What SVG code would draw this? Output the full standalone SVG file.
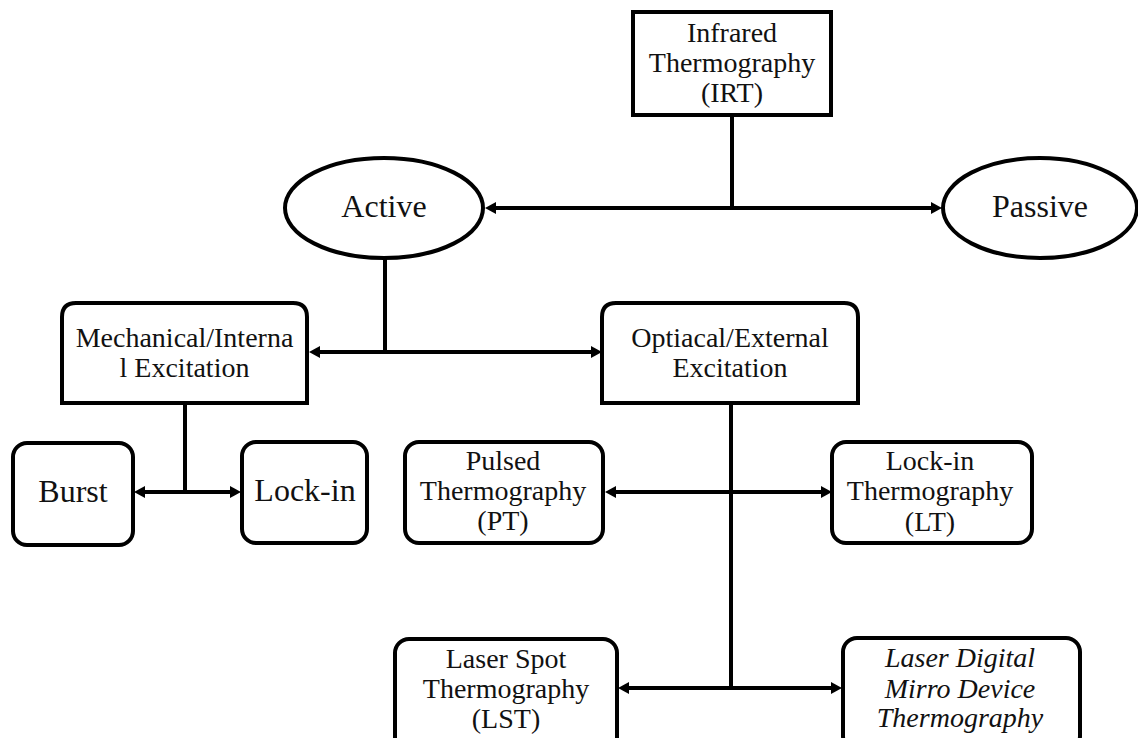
<svg xmlns="http://www.w3.org/2000/svg" width="1138" height="738" viewBox="0 0 1138 738">
<style>
.box{fill:#fff;stroke:#000;stroke-width:4}
.t{font-family:"Liberation Serif","Times New Roman",serif;font-size:28px;fill:#111;text-anchor:middle}
.big{font-size:32px}
.it{font-style:italic}
.c{stroke:#000;stroke-width:4;fill:none}
</style>
<defs>
<marker id="ah" markerUnits="userSpaceOnUse" markerWidth="11" markerHeight="12" viewBox="0 0 11 12" refX="0" refY="6" orient="auto-start-reverse">
<path d="M0,0 L11,6 L0,12 z" fill="#000"/>
</marker>
</defs>
<rect width="1138" height="738" fill="#fff"/>
<g id="connectors">
<line class="c" x1="732" y1="115" x2="732" y2="210"/>
<line class="c" x1="496" y1="208" x2="931" y2="208" marker-start="url(#ah)" marker-end="url(#ah)"/>
<line class="c" x1="385" y1="258" x2="385" y2="354"/>
<line class="c" x1="320" y1="352" x2="591" y2="352" marker-start="url(#ah)" marker-end="url(#ah)"/>
<line class="c" x1="185" y1="403" x2="185" y2="494"/>
<line class="c" x1="145" y1="492" x2="230" y2="492" marker-start="url(#ah)" marker-end="url(#ah)"/>
<line class="c" x1="731" y1="403" x2="731" y2="690"/>
<line class="c" x1="616" y1="492" x2="821" y2="492" marker-start="url(#ah)" marker-end="url(#ah)"/>
<line class="c" x1="629" y1="688" x2="831" y2="688" marker-start="url(#ah)" marker-end="url(#ah)"/>
</g>
<g id="irt">
<rect class="box" x="633" y="12" width="198" height="103"/>
<text class="t" x="732" y="42">Infrared</text>
<text class="t" x="732" y="72">Thermography</text>
<text class="t" x="732" y="102">(IRT)</text>
</g>
<g id="active">
<ellipse class="box" cx="384" cy="208" rx="99" ry="50"/>
<text class="t big" x="384" y="217">Active</text>
</g>
<g id="passive">
<ellipse class="box" cx="1040" cy="208" rx="97" ry="50"/>
<text class="t big" x="1040" y="217">Passive</text>
</g>
<g id="mechanical">
<path class="box" d="M62,403 L62,317 Q62,303 76,303 L293,303 Q307,303 307,317 L307,403 Z"/>
<text class="t" x="184.5" y="347">Mechanical/Interna</text>
<text class="t" x="184.5" y="377">l Excitation</text>
</g>
<g id="optical">
<path class="box" d="M602,403 L602,317 Q602,303 616,303 L844,303 Q858,303 858,317 L858,403 Z"/>
<text class="t" x="730" y="347">Optiacal/External</text>
<text class="t" x="730" y="377">Excitation</text>
</g>
<g id="burst">
<rect class="box" x="13" y="443" width="120" height="102" rx="14"/>
<text class="t big" x="73" y="502">Burst</text>
</g>
<g id="lockin">
<rect class="box" x="242" y="442" width="125" height="101" rx="14"/>
<text class="t big" x="305" y="501">Lock-in</text>
</g>
<g id="pt">
<rect class="box" x="405" y="442" width="198" height="101" rx="14"/>
<text class="t" x="503" y="470">Pulsed</text>
<text class="t" x="503" y="500">Thermography</text>
<text class="t" x="503" y="530">(PT)</text>
</g>
<g id="lt">
<rect class="box" x="832" y="442" width="200" height="101" rx="14"/>
<text class="t" x="930" y="470">Lock-in</text>
<text class="t" x="930" y="500">Thermography</text>
<text class="t" x="930" y="531">(LT)</text>
</g>
<g id="lst">
<rect class="box" x="395" y="639" width="222" height="112" rx="14"/>
<text class="t" x="506" y="668">Laser Spot</text>
<text class="t" x="506" y="698">Thermography</text>
<text class="t" x="506" y="728">(LST)</text>
</g>
<g id="ldmt">
<rect class="box" x="843" y="638" width="237" height="112" rx="14"/>
<text class="t it" x="960" y="667">Laser Digital</text>
<text class="t it" x="960" y="698">Mirro Device</text>
<text class="t it" x="960" y="727">Thermography</text>
</g>
</svg>
